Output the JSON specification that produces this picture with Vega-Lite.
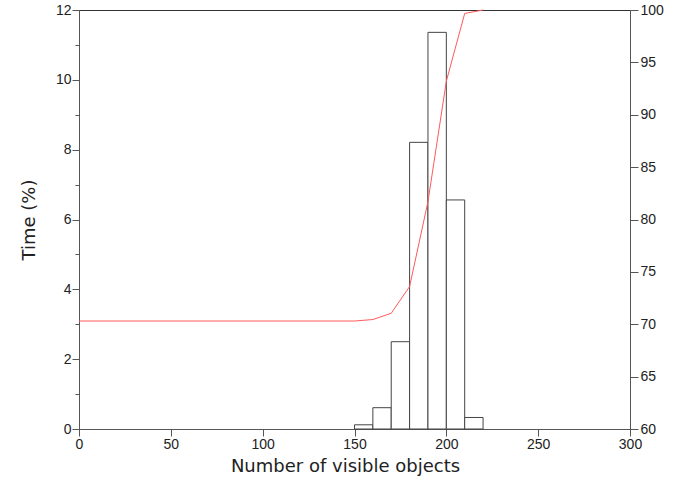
{
  "$schema": "https://vega.github.io/schema/vega-lite/v6.json",
  "width": 551,
  "height": 419,
  "autosize": "none",
  "padding": {"left": 79, "top": 10, "right": 43, "bottom": 52},
  "background": "white",
  "config": {
    "view": {"stroke": "#333", "strokeWidth": 1},
    "axis": {
      "grid": false,
      "labelFont": "Liberation Sans",
      "labelFontSize": 14,
      "labelColor": "#222",
      "labelFlush": false,
      "titleFont": "DejaVu Sans",
      "titleFontSize": 18,
      "titleFontWeight": "normal",
      "titleColor": "#222",
      "domainColor": "#555",
      "tickColor": "#555"
    }
  },
  "layer": [
    {
      "data": {
        "values": [
          {"start": 150, "end": 160, "time": 0.12},
          {"start": 160, "end": 170, "time": 0.61},
          {"start": 170, "end": 180, "time": 2.5},
          {"start": 180, "end": 190, "time": 8.21},
          {"start": 190, "end": 200, "time": 11.36},
          {"start": 200, "end": 210, "time": 6.56},
          {"start": 210, "end": 220, "time": 0.33}
        ]
      },
      "mark": {"type": "bar", "fill": "white", "stroke": "#444", "strokeWidth": 1},
      "encoding": {
        "x": {
          "field": "start",
          "type": "quantitative",
          "scale": {"domain": [0, 300], "nice": false},
          "axis": {
            "title": "Number of visible objects",
            "values": [0, 50, 100, 150, 200, 250, 300],
            "tickSize": 7,
            "labelPadding": 1,
            "labelFlush": false,
            "titlePadding": 6,
            "titleX": 266,
            "titleAlign": "center"
          }
        },
        "x2": {"field": "end"},
        "y": {
          "field": "time",
          "type": "quantitative",
          "scale": {"domain": [0, 12], "nice": false},
          "axis": {
            "title": "Time (%)",
            "values": [0, 1, 2, 3, 4, 5, 6, 7, 8, 9, 10, 11, 12],
            "labelExpr": "datum.value % 2 == 0 ? datum.label : ''",
            "tickSize": {"condition": {"test": "datum.value % 2 == 0", "value": 7}, "value": 4},
            "labelPadding": 1,
            "labelFlush": false,
            "titlePadding": 17
          }
        },
        "y2": {"datum": 0}
      }
    },
    {
      "data": {
        "values": [
          {"n": 0, "cum": 70.31},
          {"n": 150, "cum": 70.31},
          {"n": 160, "cum": 70.45},
          {"n": 170, "cum": 71.05},
          {"n": 180, "cum": 73.6},
          {"n": 190, "cum": 81.7},
          {"n": 200, "cum": 93.2},
          {"n": 210, "cum": 99.67},
          {"n": 220, "cum": 100}
        ]
      },
      "mark": {"type": "line", "color": "#ff5a5a", "strokeWidth": 1},
      "encoding": {
        "x": {"field": "n", "type": "quantitative"},
        "y": {
          "field": "cum",
          "type": "quantitative",
          "scale": {"domain": [60, 100], "nice": false},
          "axis": {
            "orient": "right",
            "title": null,
            "values": [60, 65, 70, 75, 80, 85, 90, 95, 100],
            "tickSize": 8,
            "labelPadding": 2,
            "labelFlush": false
          }
        }
      }
    }
  ],
  "resolve": {"scale": {"y": "independent"}}
}
